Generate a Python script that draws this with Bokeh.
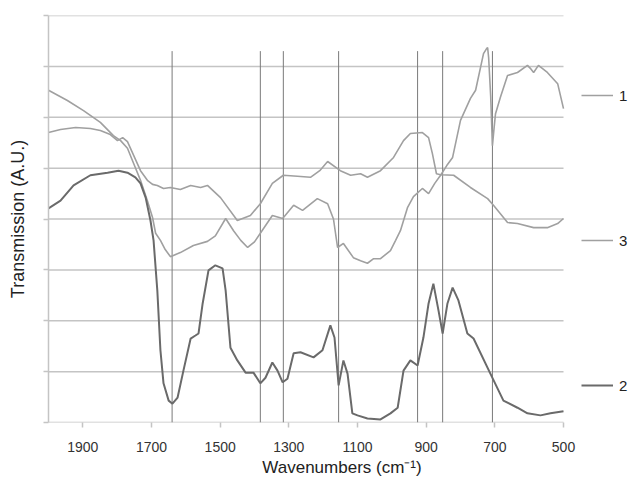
from bokeh.plotting import figure
from bokeh.models import Range1d, FixedTicker, Legend, LegendItem
from bokeh.embed import file_html
from bokeh.resources import INLINE

# ---- data ----
wn1 = [2000, 1945, 1898, 1849, 1811, 1790, 1770, 1752, 1732, 1712, 1697, 1688, 1674, 1660, 1645,
       1616, 1578, 1537, 1514, 1484, 1461, 1440, 1420, 1400, 1383, 1348, 1318, 1286, 1260, 1217,
       1187, 1170, 1158, 1141, 1112, 1091, 1071, 1053, 1033, 1004, 989, 975, 954, 937, 911, 893,
       875, 858, 840, 823, 800, 771, 756, 733, 724, 721, 718, 712, 707, 702, 698, 684, 663, 634,
       605, 595, 587, 573, 547, 517, 500]
t1 = [6.53, 6.33, 6.13, 5.90, 5.64, 5.54, 5.39, 5.09, 4.76, 4.36, 4.03, 3.72, 3.58, 3.40, 3.26,
      3.34, 3.48, 3.56, 3.67, 4.01, 3.77, 3.58, 3.44, 3.55, 3.72, 4.07, 4.01, 4.27, 4.17, 4.40,
      4.30, 4.00, 3.44, 3.52, 3.24, 3.18, 3.13, 3.22, 3.22, 3.38, 3.58, 3.77, 4.23, 4.44, 4.60, 4.50,
      4.70, 4.86, 5.05, 5.21, 5.94, 6.37, 6.53, 7.25, 7.35, 7.37, 7.17, 6.40, 5.44, 5.80, 6.07, 6.39,
      6.82, 6.88, 7.02, 6.95, 6.88, 7.02, 6.88, 6.66, 6.17]

wn3 = [2000, 1965, 1921, 1878, 1849, 1820, 1799, 1784, 1770, 1752, 1732, 1712, 1697, 1683, 1665,
       1645, 1616, 1586, 1557, 1537, 1499, 1450, 1412, 1383, 1348, 1316, 1275, 1237, 1210, 1187,
       1150, 1120, 1091, 1071, 1033, 995, 966, 946, 911, 893, 882, 870, 858, 820, 771, 721, 704,
       663, 634, 587, 547, 517, 500]
t3 = [5.70, 5.76, 5.80, 5.78, 5.74, 5.66, 5.54, 5.60, 5.52, 5.25, 4.95, 4.76, 4.68, 4.66, 4.60,
      4.62, 4.58, 4.66, 4.62, 4.66, 4.42, 3.97, 4.07, 4.30, 4.70, 4.86, 4.84, 4.82, 4.95, 5.13,
      4.95, 4.86, 4.89, 4.82, 4.95, 5.21, 5.54, 5.68, 5.70, 5.60, 5.29, 4.89, 4.87, 4.86, 4.62,
      4.40, 4.27, 3.93, 3.91, 3.83, 3.83, 3.91, 4.01]

wn2 = [2000, 1965, 1927, 1878, 1828, 1796, 1770, 1747, 1732, 1717, 1703, 1694, 1683, 1674, 1665,
       1650, 1639, 1624, 1607, 1586, 1572, 1563, 1551, 1534, 1514, 1493, 1484, 1470, 1450, 1426,
       1403, 1383, 1368, 1348, 1333, 1318, 1304, 1286, 1266, 1228, 1202, 1179, 1167, 1155, 1141,
       1129, 1115, 1100, 1071, 1033, 1004, 983, 966, 946, 925, 908, 893, 879, 864, 852, 838, 823,
       806, 780, 762, 713, 675, 634, 605, 567, 538, 500]
t2 = [4.21, 4.36, 4.66, 4.86, 4.91, 4.95, 4.91, 4.82, 4.70, 4.42, 3.97, 3.58, 2.59, 1.42, 0.77,
      0.43, 0.37, 0.49, 1.02, 1.65, 1.71, 1.75, 2.34, 2.99, 3.09, 3.03, 2.59, 1.47, 1.22, 0.98,
      0.98, 0.77, 0.88, 1.18, 1.02, 0.79, 0.86, 1.36, 1.38, 1.28, 1.42, 1.91, 1.67, 0.73, 1.22,
      0.96, 0.18, 0.14, 0.08, 0.06, 0.18, 0.29, 1.02, 1.22, 1.12, 1.67, 2.34, 2.73, 2.20, 1.75,
      2.34, 2.65, 2.40, 1.75, 1.65, 0.96, 0.43, 0.29, 0.18, 0.14, 0.18, 0.22]

markers = [1640, 1383, 1316, 1155, 925, 852, 707]
marker_top = 7.3
x_min, x_max = 500, 2000
x_ticks = [1900, 1700, 1500, 1300, 1100, 900, 700, 500]
y_ticks = [0, 1, 2, 3, 4, 5, 6, 7, 8]
legend_labels = ["1", "3", "2"]

FONT = "Liberation Sans"
GRID = "#c4c4c4"

# plot area: 515 px for the 1500 cm-1 span, the rest on the right kept for the legend
W, FRAME_W, LEFT = 635, 515, 48
px_per_unit = FRAME_W / (x_max - x_min)
x_right_end = x_min - (W - LEFT - FRAME_W) / px_per_unit

p = figure(width=W, height=481, output_backend="svg", toolbar_location=None,
           x_range=Range1d(x_max, x_right_end), y_range=Range1d(0, 8),
           min_border_left=LEFT, min_border_right=0, min_border_top=15, min_border_bottom=59)
p.outline_line_color = None
p.background_fill_color = "white"
p.border_fill_color = "white"
p.xgrid.visible = False
p.ygrid.visible = False

# horizontal gridlines spanning the data range only
p.segment(x0=[x_max] * len(y_ticks), y0=y_ticks, x1=[x_min] * len(y_ticks), y1=y_ticks,
          line_color=GRID, line_width=1.5)

p.xaxis.ticker = FixedTicker(ticks=x_ticks)
p.xaxis.axis_line_color = None
p.xaxis.major_tick_line_color = GRID
p.xaxis.major_tick_line_width = 1.5
p.xaxis.major_tick_in = 0
p.xaxis.major_tick_out = 5
p.xaxis.minor_tick_line_color = None
p.xaxis.major_label_text_font = FONT
p.xaxis.major_label_text_font_size = "14px"
p.xaxis.major_label_text_color = "#333333"
p.xaxis.major_label_standoff = 14
p.xaxis.axis_label = "Wavenumbers (cm⁻¹)"
p.xaxis.axis_label_text_font = FONT
p.xaxis.axis_label_text_font_size = "17px"
p.xaxis.axis_label_text_font_style = "normal"
p.xaxis.axis_label_text_color = "#222222"
p.xaxis.axis_label_standoff = 3

p.yaxis.ticker = FixedTicker(ticks=y_ticks)
p.yaxis.axis_line_color = GRID
p.yaxis.axis_line_width = 1.5
p.yaxis.major_tick_line_color = GRID
p.yaxis.major_tick_line_width = 1.5
p.yaxis.major_tick_in = 0
p.yaxis.major_tick_out = 5
p.yaxis.minor_tick_line_color = None
p.yaxis.major_label_overrides = {t: "" for t in y_ticks}
p.yaxis.major_label_standoff = 0
p.yaxis.axis_label = "Transmission (A.U.)"
p.yaxis.axis_label_text_font = FONT
p.yaxis.axis_label_text_font_size = "18px"
p.yaxis.axis_label_text_font_style = "normal"
p.yaxis.axis_label_text_color = "#222222"
p.yaxis.axis_label_standoff = 16

p.segment(x0=markers, y0=[0] * len(markers), x1=markers, y1=[marker_top] * len(markers),
          line_color="#7a7a7a", line_width=1)

r1 = p.line(wn1, t1, line_color="#a0a0a0", line_width=1.6)
r3 = p.line(wn3, t3, line_color="#a0a0a0", line_width=1.6)
r2 = p.line(wn2, t2, line_color="#6a6a6a", line_width=2)

legend = Legend(items=[LegendItem(label=legend_labels[0], renderers=[r1]),
                       LegendItem(label=legend_labels[1], renderers=[r3]),
                       LegendItem(label=legend_labels[2], renderers=[r2])],
                location=(533, 27), spacing=125, orientation="vertical",
                border_line_color=None, background_fill_alpha=0, padding=0, margin=0,
                glyph_width=32, glyph_height=20, label_height=20, label_standoff=6,
                label_text_font=FONT, label_text_font_size="15px", label_text_color="#222222")
p.add_layout(legend, "center")

open("out.html", "w").write(file_html(p, INLINE))
